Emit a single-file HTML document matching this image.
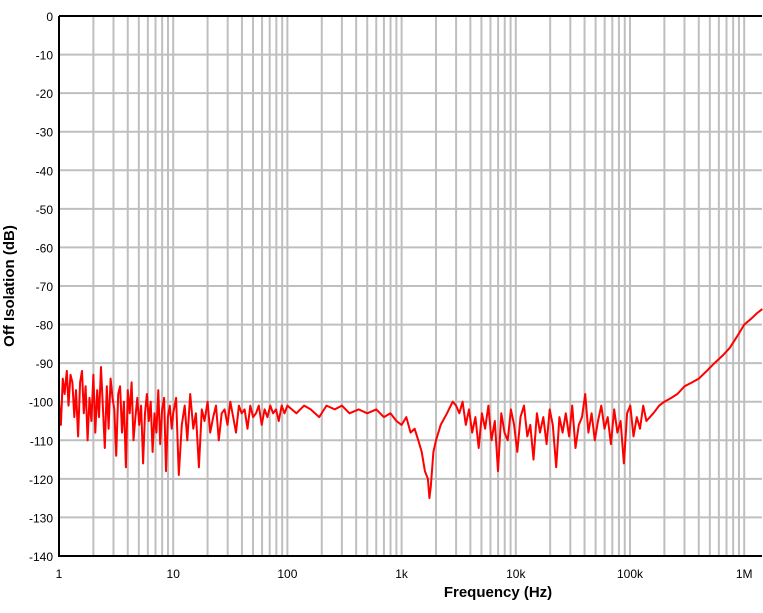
<!DOCTYPE html>
<html><head><meta charset="utf-8"><style>
body{margin:0;background:#fff;}
svg text{font-family:"Liberation Sans",Arial,sans-serif;}
</style></head><body>
<svg id="chart" width="763" height="608" xmlns="http://www.w3.org/2000/svg">
<g id="grid"></g>
<g id="ticks"></g>
<path id="series" fill="none" stroke="#ff0000" stroke-width="2" stroke-linejoin="round"/>
<path d="M59,16H762M59,16V556H762" fill="none" stroke="#000" stroke-width="2"/>
<text x="498" y="597" text-anchor="middle" font-size="15" font-weight="bold">Frequency (Hz)</text>
<text transform="translate(14,286) rotate(-90)" text-anchor="middle" font-size="15" font-weight="bold">Off Isolation (dB)</text>
</svg>
<script>
const xTickValues=[1,10,100,1000,10000,100000,1000000];
const xTickLabels=["1","10","100","1k","10k","100k","1M"];
const yTickValues=[0,-10,-20,-30,-40,-50,-60,-70,-80,-90,-100,-110,-120,-130,-140];
const freqs=[1,1.04,1.08,1.12,1.17,1.21,1.26,1.31,1.36,1.41,1.47,1.53,1.59,1.65,1.71,1.78,1.85,1.92,2,2.08,2.16,2.24,2.33,2.42,2.52,2.62,2.72,2.83,2.94,3.05,3.17,3.3,3.43,3.56,3.7,3.85,4,4.16,4.32,4.49,4.67,4.85,5.04,5.24,5.45,5.66,5.88,6.11,6.35,6.6,6.86,7.13,7.41,7.7,8,8.32,8.65,8.99,9.34,9.7,
10,10.6,11.2,11.9,12.6,13.3,14.1,15,15.8,16.8,17.8,18.8,20,21.1,22.4,23.7,25.1,26.6,28.2,29.9,31.6,33.5,35.5,37.6,39.8,42.2,44.7,47.3,50.1,53.1,56.2,59.6,63.1,66.8,70.8,75,79.4,84.1,89.1,94.4,
100,120,140,160,190,220,260,300,350,420,500,600,700,800,900,1000,1100,1200,1300,1400,1500,1600,1700,1750,1800,1900,2000,2200,2500,2800,
3000,3200,3420,3650,3890,4150,4430,4730,5050,5390,5750,6130,6550,6990,7460,7960,8490,9060,9670,10300,11000,11800,12600,13400,14300,15300,16300,17400,18600,19800,21100,22600,24100,25700,27400,29300,31200,33300,35600,38000,40500,43200,46100,49200,52500,56100,59800,63800,68100,72700,77600,82800,88400,94300,100600,107400,114600,122300,130500,139300,
160000,180000,200000,230000,260000,300000,350000,400000,470000,550000,650000,750000,870000,1000000,1150000,1300000,1440000];
const dbValues=[-100,-106,-94,-98,-92,-101,-93,-95,-104,-97,-109,-95,-92,-103,-96,-110,-99,-105,-93,-108,-97,-104,-91,-101,-112,-96,-107,-94,-99,-102,-114,-98,-96,-108,-100,-117,-97,-103,-95,-110,-104,-99,-106,-101,-116,-103,-98,-105,-100,-113,-103,-108,-97,-111,-102,-99,-118,-104,-101,-107,
-103,-99,-119,-106,-101,-110,-98,-107,-103,-117,-102,-105,-100,-108,-104,-101,-110,-103,-102,-106,-100,-104,-108,-101,-103,-102,-107,-101,-104,-103,-101,-106,-102,-104,-101,-103,-102,-105,-101,-103,
-101,-103,-101,-102,-104,-101,-102,-101,-103,-102,-103,-102,-104,-103,-105,-106,-104,-108,-107,-110,-113,-118,-120,-125,-122,-113,-110,-106,-103,-100,
-101,-103,-100,-106,-102,-108,-104,-112,-103,-107,-101,-110,-105,-118,-103,-108,-110,-102,-106,-113,-104,-101,-109,-106,-115,-103,-108,-104,-111,-102,-106,-117,-104,-108,-103,-109,-101,-112,-106,-104,-98,-108,-103,-110,-105,-101,-107,-104,-111,-102,-108,-105,-116,-103,-101,-109,-104,-107,-101,-105,
-103,-101,-100,-99,-98,-96,-95,-94,-92,-90,-88,-86,-83,-80,-78.5,-77,-76];
const L=59,R=762,T=16,B=556,xPerDec=114.2;
function xs(f){return L+Math.log10(f)*xPerDec;}
function ys(d){return T+(0-d)/140*(B-T);}
const ns="http://www.w3.org/2000/svg";
const grid=document.getElementById('grid'),ticks=document.getElementById('ticks');
function mk(t,a,p){const e=document.createElementNS(ns,t);for(const k in a)e.setAttribute(k,a[k]);p.appendChild(e);return e;}
for(let d=0;d<7;d++){for(let m=1;m<10;m++){const f=m*Math.pow(10,d);const x=xs(f);if(x>R)break;if(x<=L+1)continue;
const ln=mk('line',{x1:x,x2:x,y1:T,y2:B,stroke:'#bfbfbf','stroke-width':2},grid);

}}
yTickValues.forEach(v=>{const y=ys(v);
if(v!==0&&v!==-140){const ln=mk('line',{x1:L,x2:R,y1:y,y2:y,stroke:'#bfbfbf','stroke-width':2},grid);

}
const t=mk('text',{x:L-6,y:y+5,'text-anchor':'end','font-size':12},ticks);t.textContent=v;

});
xTickValues.forEach((v,i)=>{const t=mk('text',{x:xs(v),y:578,'text-anchor':'middle','font-size':12},ticks);t.textContent=xTickLabels[i];

});
let d='';freqs.forEach((f,i)=>{d+=(i?'L':'M')+xs(f).toFixed(1)+','+ys(dbValues[i]).toFixed(1);});
document.getElementById('series').setAttribute('d',d);
</script>
</body></html>
